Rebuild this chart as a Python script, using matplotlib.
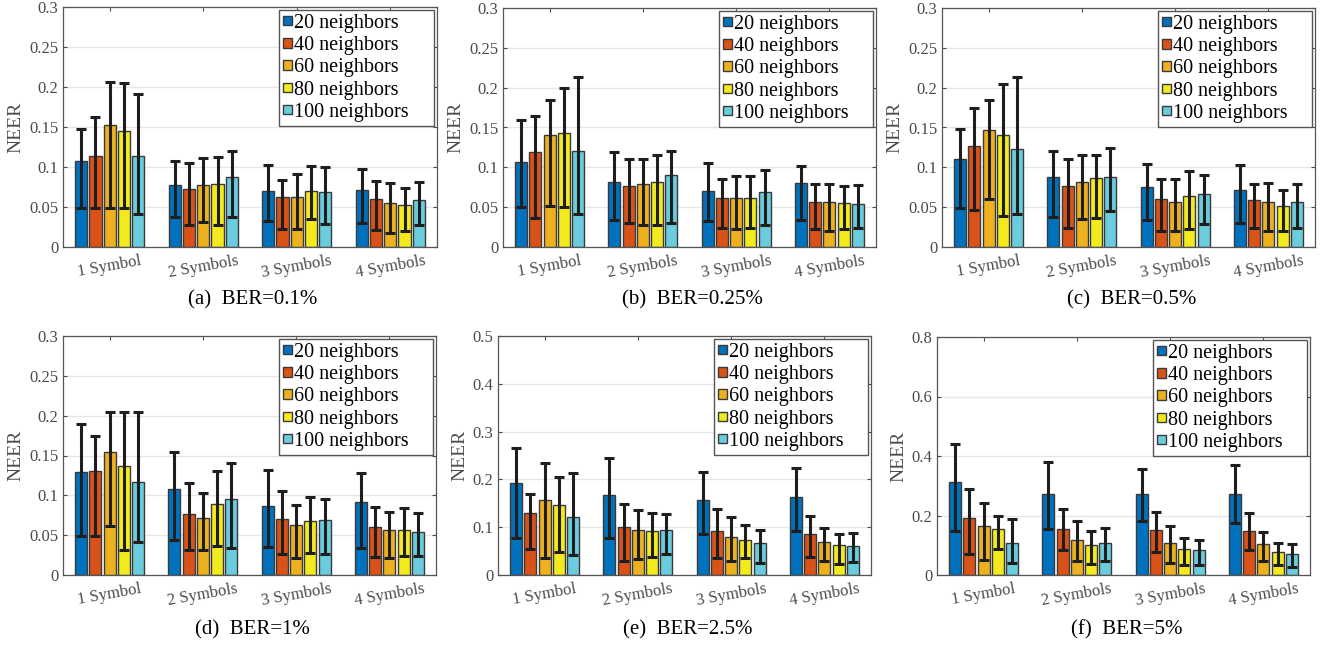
import numpy as np
import matplotlib
matplotlib.use("Agg")
import matplotlib.pyplot as plt

matplotlib.rcParams.update({
    "font.family": "Liberation Serif",
    "mathtext.fontset": "stix",
})

groups = ["1 Symbol", "2 Symbols", "3 Symbols", "4 Symbols"]
labels = ["20 neighbors", "40 neighbors", "60 neighbors", "80 neighbors", "100 neighbors"]
captions = ["(a)  BER=0.1%", "(b)  BER=0.25%", "(c)  BER=0.5%",
            "(d)  BER=1%", "(e)  BER=2.5%", "(f)  BER=5%"]
ylims = [0.3, 0.3, 0.3, 0.3, 0.5, 0.8]
ysteps = [0.05, 0.05, 0.05, 0.05, 0.1, 0.2]

# rows = neighbor setting, cols = symbol groups
mean_a = [[0.108, 0.078, 0.070, 0.071],
          [0.114, 0.072, 0.062, 0.060],
          [0.153, 0.077, 0.062, 0.055],
          [0.145, 0.079, 0.070, 0.053],
          [0.114, 0.088, 0.069, 0.059]]
lo_a = [[0.049, 0.038, 0.033, 0.030],
        [0.049, 0.028, 0.022, 0.021],
        [0.049, 0.031, 0.023, 0.018],
        [0.049, 0.028, 0.035, 0.020],
        [0.041, 0.038, 0.029, 0.028]]
hi_a = [[0.148, 0.108, 0.103, 0.098],
        [0.162, 0.105, 0.084, 0.083],
        [0.206, 0.111, 0.091, 0.080],
        [0.205, 0.112, 0.101, 0.074],
        [0.191, 0.120, 0.100, 0.081]]

mean_b = [[0.107, 0.082, 0.070, 0.080],
          [0.119, 0.076, 0.062, 0.057],
          [0.141, 0.079, 0.062, 0.057],
          [0.143, 0.082, 0.062, 0.055],
          [0.120, 0.090, 0.069, 0.054]]
lo_b = [[0.050, 0.034, 0.033, 0.034],
        [0.037, 0.030, 0.024, 0.022],
        [0.052, 0.028, 0.022, 0.020],
        [0.050, 0.028, 0.024, 0.022],
        [0.041, 0.030, 0.027, 0.024]]
hi_b = [[0.159, 0.119, 0.105, 0.102],
        [0.164, 0.110, 0.085, 0.079],
        [0.184, 0.111, 0.089, 0.079],
        [0.199, 0.115, 0.089, 0.076],
        [0.213, 0.121, 0.097, 0.078]]

mean_c = [[0.111, 0.088, 0.075, 0.072],
          [0.127, 0.076, 0.060, 0.059],
          [0.147, 0.082, 0.057, 0.057],
          [0.141, 0.086, 0.064, 0.051],
          [0.123, 0.088, 0.067, 0.057]]
lo_c = [[0.049, 0.038, 0.034, 0.030],
        [0.047, 0.024, 0.020, 0.024],
        [0.060, 0.035, 0.020, 0.020],
        [0.039, 0.036, 0.022, 0.020],
        [0.041, 0.045, 0.029, 0.024]]
hi_c = [[0.148, 0.121, 0.104, 0.103],
        [0.174, 0.111, 0.085, 0.079],
        [0.184, 0.116, 0.085, 0.080],
        [0.205, 0.115, 0.096, 0.071],
        [0.213, 0.124, 0.091, 0.079]]

mean_d = [[0.129, 0.108, 0.087, 0.092],
          [0.130, 0.077, 0.070, 0.060],
          [0.155, 0.072, 0.063, 0.057],
          [0.137, 0.089, 0.068, 0.057],
          [0.117, 0.096, 0.069, 0.054]]
lo_d = [[0.049, 0.044, 0.035, 0.034],
        [0.049, 0.031, 0.026, 0.022],
        [0.061, 0.031, 0.021, 0.021],
        [0.032, 0.037, 0.028, 0.024],
        [0.041, 0.034, 0.026, 0.024]]
hi_d = [[0.190, 0.155, 0.132, 0.128],
        [0.174, 0.115, 0.105, 0.085],
        [0.205, 0.103, 0.088, 0.079],
        [0.205, 0.131, 0.098, 0.084],
        [0.205, 0.141, 0.096, 0.078]]

mean_e = [[0.193, 0.168, 0.157, 0.164],
          [0.130, 0.100, 0.093, 0.086],
          [0.156, 0.095, 0.080, 0.070],
          [0.146, 0.093, 0.074, 0.062],
          [0.121, 0.095, 0.066, 0.061]]
lo_e = [[0.077, 0.078, 0.086, 0.093],
        [0.054, 0.030, 0.035, 0.038],
        [0.035, 0.033, 0.029, 0.030],
        [0.049, 0.037, 0.035, 0.024],
        [0.041, 0.044, 0.025, 0.027]]
hi_e = [[0.266, 0.244, 0.215, 0.224],
        [0.170, 0.149, 0.139, 0.123],
        [0.235, 0.136, 0.121, 0.099],
        [0.205, 0.130, 0.105, 0.086],
        [0.213, 0.127, 0.095, 0.087]]

mean_f = [[0.314, 0.272, 0.273, 0.272],
          [0.193, 0.154, 0.150, 0.148],
          [0.165, 0.117, 0.108, 0.103],
          [0.154, 0.102, 0.089, 0.076],
          [0.107, 0.106, 0.084, 0.070]]
lo_f = [[0.149, 0.155, 0.180, 0.175],
        [0.071, 0.084, 0.077, 0.084],
        [0.051, 0.047, 0.039, 0.048],
        [0.089, 0.037, 0.035, 0.035],
        [0.040, 0.048, 0.034, 0.028]]
hi_f = [[0.442, 0.380, 0.355, 0.369],
        [0.288, 0.221, 0.212, 0.207],
        [0.241, 0.181, 0.164, 0.146],
        [0.200, 0.147, 0.126, 0.109],
        [0.187, 0.158, 0.118, 0.103]]

means = [mean_a, mean_b, mean_c, mean_d, mean_e, mean_f]
lows = [lo_a, lo_b, lo_c, lo_d, lo_e, lo_f]
highs = [hi_a, hi_b, hi_c, hi_d, hi_e, hi_f]

colors = ["#0072BD", "#D95319", "#EDB120", "#F2EA1E", "#6ACCDC"]

# axes boxes in pixels: left, top, right, bottom
boxes = [(63, 7, 437, 247), (503, 8, 876, 247), (942, 8, 1315, 247),
         (63, 336, 436, 575), (498, 336, 871, 575), (937, 337, 1310, 575)]
cap_y = [300, 300, 300, 630, 630, 630]

W, H = 1326, 646
fig = plt.figure(figsize=(W / 100, H / 100), dpi=100)

x = np.arange(1, 5)
step = 0.153
width = 0.13
tick_col = "#4a4a4a"

for k in range(6):
    l, t, r, b = boxes[k]
    ax = fig.add_axes([l / W, 1 - b / H, (r - l) / W, (b - t) / H])
    m = np.array(means[k])
    lo = np.array(lows[k])
    hi = np.array(highs[k])
    for i in range(5):
        xs = x + (i - 2) * step
        ax.bar(xs, m[i], width, color=colors[i], edgecolor="#3a3a3a",
               linewidth=1.0, label=labels[i], zorder=2)
        ax.errorbar(xs, m[i], yerr=[m[i] - lo[i], hi[i] - m[i]], fmt="none",
                    ecolor="#1e1e1e", elinewidth=2.2, capsize=3.5,
                    capthick=2.2, zorder=3)
    ax.set_xlim(0.5, 4.5)
    ax.set_ylim(0, ylims[k])
    yt = np.arange(0, ylims[k] + 1e-9, ysteps[k])
    ax.set_yticks(yt)
    ax.set_yticklabels([("%g" % v) for v in yt])
    ax.set_xticks(x)
    ax.set_xticklabels(groups, rotation=10)
    ax.yaxis.grid(True, color="#e6e6e6", linewidth=1.0, zorder=0)
    ax.set_axisbelow(True)
    ax.tick_params(axis="both", direction="in", length=3, width=0.8,
                   colors=tick_col, labelsize=12, top=True, right=True)
    ax.tick_params(axis="x", pad=4)
    for s in ax.spines.values():
        s.set_color("#555555")
        s.set_linewidth(0.9)
    ax.set_ylabel("NEER", fontsize=14, color=tick_col, labelpad=3)
    # MATLAB-style legend: wide box with extra room on the right
    leg = ax.legend(loc="upper right", bbox_to_anchor=(0.578, 0.5, 0.414, 0.488),
                    mode="expand", fontsize=14.5, handlelength=0.45,
                    handleheight=0.35, handletextpad=0.1, labelspacing=0.16,
                    borderpad=0.2, borderaxespad=0.0, fancybox=False,
                    framealpha=1)
    leg.get_frame().set_edgecolor("#555555")
    leg.get_frame().set_linewidth(1.0)
    fig.text(((l + r) / 2 + 3) / W, 1 - cap_y[k] / H, captions[k],
             ha="center", va="center", fontsize=15)

fig.savefig("out.png", dpi=100)
